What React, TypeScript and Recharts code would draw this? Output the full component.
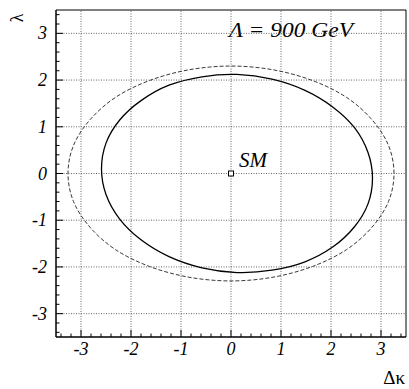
import React from "react";
import { LineChart, Line, XAxis, YAxis, ReferenceLine, ReferenceArea, Scatter } from "recharts";

// 900 GeV contour (solid)
const solidContour = [
  { x: 2.83, y: -0.1 }, { x: 2.74, y: 0.45 }, { x: 2.47, y: 0.98 }, { x: 2.04, y: 1.42 },
  { x: 1.48, y: 1.78 }, { x: 0.82, y: 2.02 }, { x: 0.12, y: 2.12 }, { x: -0.58, y: 2.07 },
  { x: -1.24, y: 1.89 }, { x: -1.8, y: 1.56 }, { x: -2.23, y: 1.14 }, { x: -2.5, y: 0.65 },
  { x: -2.59, y: 0.1 }, { x: -2.5, y: -0.45 }, { x: -2.23, y: -0.97 }, { x: -1.8, y: -1.42 },
  { x: -1.24, y: -1.78 }, { x: -0.58, y: -2.02 }, { x: 0.12, y: -2.12 }, { x: 0.82, y: -2.07 },
  { x: 1.48, y: -1.89 }, { x: 2.04, y: -1.57 }, { x: 2.47, y: -1.14 }, { x: 2.74, y: -0.65 },
];

// outer contour (dashed)
const dashedContour = [
  { x: 3.26, y: 0 }, { x: 3.15, y: 0.6 }, { x: 2.82, y: 1.15 }, { x: 2.31, y: 1.63 },
  { x: 1.63, y: 1.99 }, { x: 0.84, y: 2.22 }, { x: 0, y: 2.3 }, { x: -0.84, y: 2.22 },
  { x: -1.63, y: 1.99 }, { x: -2.31, y: 1.63 }, { x: -2.82, y: 1.15 }, { x: -3.15, y: 0.6 },
  { x: -3.26, y: 0 }, { x: -3.15, y: -0.6 }, { x: -2.82, y: -1.15 }, { x: -2.31, y: -1.63 },
  { x: -1.63, y: -1.99 }, { x: -0.84, y: -2.22 }, { x: 0, y: -2.3 }, { x: 0.84, y: -2.22 },
  { x: 1.63, y: -1.99 }, { x: 2.31, y: -1.63 }, { x: 2.82, y: -1.15 }, { x: 3.15, y: -0.6 },
];

const smPoint = [{ x: 0, y: 0 }];

const axisTicks = [
  -3.4, -3.2, -3, -2.8, -2.6, -2.4, -2.2, -2, -1.8, -1.6, -1.4, -1.2, -1, -0.8, -0.6, -0.4, -0.2,
  0, 0.2, 0.4, 0.6, 0.8, 1, 1.2, 1.4, 1.6, 1.8, 2, 2.2, 2.4, 2.6, 2.8, 3, 3.2, 3.4,
];
const labelTicks = [-3, -2, -1, 0, 1, 2, 3];
const gridValues = [-3, -2, -1, 0, 1, 2, 3];
const domain: [number, number] = [-3.5, 3.5];

const FONT = "'Liberation Serif', 'DejaVu Serif', serif";

// closed Catmull-Rom curve factory (smooth closed contour through the points)
const closedSmooth = (context: any) => {
  let pts: number[][] = [];
  return {
    areaStart() {},
    areaEnd() {},
    lineStart() {
      pts = [];
    },
    point(x: number, y: number) {
      pts.push([+x, +y]);
    },
    lineEnd() {
      const n = pts.length;
      if (n === 0) return;
      context.moveTo(pts[0][0], pts[0][1]);
      for (let i = 0; i < n; i++) {
        const p0 = pts[(i - 1 + n) % n];
        const p1 = pts[i];
        const p2 = pts[(i + 1) % n];
        const p3 = pts[(i + 2) % n];
        context.bezierCurveTo(
          p1[0] + (p2[0] - p0[0]) / 6,
          p1[1] + (p2[1] - p0[1]) / 6,
          p2[0] - (p3[0] - p1[0]) / 6,
          p2[1] - (p3[1] - p1[1]) / 6,
          p2[0],
          p2[1]
        );
      }
      context.closePath();
    },
  };
};

const labelStyle = { fontFamily: FONT, fontStyle: "italic" as const };

const XTick = (props: any) => {
  const { x, y, payload } = props;
  const major = labelTicks.includes(payload.value);
  return (
    <g>
      <line x1={x} x2={x} y1={y} y2={y - (major ? 7 : 3.5)} stroke="#000" strokeWidth={1} />
      {major && (
        <text x={x} y={y + 18} textAnchor="middle" style={labelStyle} fontSize={18} fill="#000">
          {String(payload.value)}
        </text>
      )}
    </g>
  );
};

const YTick = (props: any) => {
  const { x, y, payload } = props;
  const major = labelTicks.includes(payload.value);
  return (
    <g>
      <line x1={x} x2={x + (major ? 7 : 3.5)} y1={y} y2={y} stroke="#000" strokeWidth={1} />
      {major && (
        <text x={x - 9} y={y + 6} textAnchor="end" style={labelStyle} fontSize={18} fill="#000">
          {String(payload.value)}
        </text>
      )}
    </g>
  );
};

const SMShape = (props: any) => {
  const { cx, cy } = props;
  return (
    <g>
      <rect x={cx - 2.5} y={cy - 2.5} width={5} height={5} fill="#fff" stroke="#000" strokeWidth={1} />
      <text x={cx + 8} y={cy - 6.5} style={labelStyle} fontSize={21} fill="#000">
        SM
      </text>
    </g>
  );
};

export default function App() {
  return (
    <div style={{ position: "absolute", left: 0, top: 0, width: 409, height: 389, overflow: "hidden" }}>
      <LineChart width={409} height={389} margin={{ top: 10, right: 3, left: 55, bottom: 51 }}>
        <XAxis
          dataKey="x"
          type="number"
          domain={domain}
          ticks={axisTicks}
          interval={0}
          tick={<XTick />}
          tickLine={false}
          tickSize={0}
          tickMargin={0}
          height={1}
          axisLine={{ stroke: "#000", strokeWidth: 1 }}
          allowDataOverflow
        />
        <YAxis
          dataKey="y"
          type="number"
          domain={domain}
          ticks={axisTicks}
          interval={0}
          tick={<YTick />}
          tickLine={false}
          tickSize={0}
          tickMargin={0}
          width={1}
          axisLine={{ stroke: "#000", strokeWidth: 1 }}
          allowDataOverflow
        />
        {gridValues.map((v) => (
          <ReferenceLine key={"vx" + v} x={v} stroke="#666" strokeDasharray="1 1.5" strokeWidth={1} />
        ))}
        {gridValues.map((v) => (
          <ReferenceLine key={"hy" + v} y={v} stroke="#666" strokeDasharray="1 1.5" strokeWidth={1} />
        ))}
        <ReferenceArea x1={-3.5} x2={3.5} y1={-3.5} y2={3.5} fill="none" fillOpacity={0} stroke="#000" strokeWidth={1} />
        <Line
          data={dashedContour}
          dataKey="y"
          type={closedSmooth as any}
          stroke="#222"
          strokeWidth={0.9}
          strokeDasharray="4 2"
          dot={false}
          activeDot={false}
          isAnimationActive={false}
        />
        <Line
          data={solidContour}
          dataKey="y"
          type={closedSmooth as any}
          stroke="#000"
          strokeWidth={1.3}
          dot={false}
          activeDot={false}
          isAnimationActive={false}
        />
        <Scatter data={smPoint} dataKey="y" shape={<SMShape />} isAnimationActive={false} />
        <text x={229} y={37} style={labelStyle} fontSize={21} textLength={124} lengthAdjust="spacingAndGlyphs" fill="#000">
          Λ = 900 GeV
        </text>
        <text x={405} y={384} textAnchor="end" fontFamily={FONT} fontSize={19} fill="#000">
          Δκ
        </text>
        <text x={0} y={0} transform="translate(17,18) rotate(-90)" textAnchor="middle" dominantBaseline="central" fontFamily={FONT} fontSize={18} fill="#000">
          λ
        </text>
      </LineChart>
    </div>
  );
}
